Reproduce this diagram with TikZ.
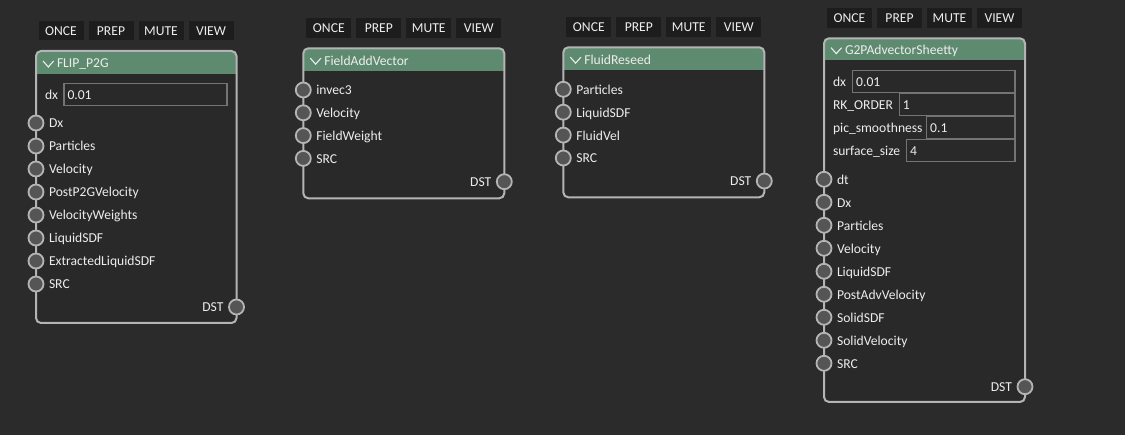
\documentclass[tikz,border=0pt]{standalone}
\usepackage{fontspec}
\setmainfont{Carlito}
\definecolor{bgc}{HTML}{2B2B2B}
\definecolor{bodyc}{HTML}{292929}
\definecolor{hdrc}{HTML}{5E8A6F}
\definecolor{bordc}{HTML}{B4B4B4}
\definecolor{portc}{HTML}{555555}
\definecolor{btnc}{HTML}{1D1D1D}
\definecolor{txtc}{HTML}{EDEDED}
\definecolor{fieldc}{HTML}{747474}
\tikzset{
  txt/.style={text=txtc, inner sep=0pt, outer sep=0pt, font=\fontsize{13.6}{15}\selectfont},
  btn/.style={txt, fill=btnc, minimum width=45pt, minimum height=19.5pt},
  panelbody/.style={fill=bodyc, inner sep=0pt, outer sep=0pt, rounded corners=5pt},
  panelborder/.style={draw=bordc, line width=2pt, rounded corners=5pt},
  chev/.style={draw=txtc, line width=1.1pt},
  port/.style={circle, draw=bordc, line width=1.8pt, fill=portc, minimum size=15pt, inner sep=0pt},
  fieldbox/.style={draw=fieldc, line width=1.2pt, inner sep=0pt, outer sep=0pt}
}
% #1 name, #2 x0, #3 x1, #4 top, #5 header bottom, #6 bottom, #7 title
\newcommand{\mypanel}[7]{%
  \node[btn,anchor=north east] (#1-view) at ({#3-3},{#4-30}) {VIEW};
  \node[btn,anchor=north east] (#1-mute) at ({#3-53},{#4-30}) {MUTE};
  \node[btn,anchor=north east] (#1-prep) at ({#3-103},{#4-30}) {PREP};
  \node[btn,anchor=north east] (#1-once) at ({#3-153},{#4-30}) {ONCE};
  \node[panelbody, minimum width={(#3-#2)*1pt}, minimum height={(#6-#4)*1pt}, anchor=north west] (#1) at (#2,#4) {};
  \begin{scope}
    \clip[rounded corners=5pt] (#1.north west) rectangle (#1.south east);
    \fill[hdrc] (#1.north west) rectangle ({#3},{#5});
  \end{scope}
  \draw[panelborder] (#1.north west) rectangle (#1.south east);
  \draw[chev] ({#2+7},{(#4+#5)/2-1.5}) -- ({#2+12.3},{(#4+#5)/2+4.5}) -- ({#2+17.6},{(#4+#5)/2-1.5});
  \node[txt,anchor=base west] (#1-title) at ({#2+21},{(#4+#5)/2+5.5}) {#7};
}
% #1 name, #2 x, #3 y, #4 label
\newcommand{\inport}[4]{%
  \node[port] (#1) at (#2,#3) {};
  \node[txt,anchor=base west] (#1-l) at ({#2+13},{#3+5}) {#4};
}
\newcommand{\outport}[3]{%
  \node[port] (#1) at (#2,#3) {};
  \node[txt,anchor=base east] (#1-l) at ({#2-13},{#3+5}) {DST};
}
% #1 name, #2 label x, #3 box x0, #4 box x1, #5 top, #6 bottom, #7 label, #8 value
\newcommand{\myfield}[8]{%
  \node[txt,anchor=base west] (#1-l) at (#2,{(#5+#6)/2+5}) {#7};
  \node[fieldbox, minimum width={(#4-#3)*1pt}, minimum height={(#6-#5)*1pt}, anchor=north west] (#1) at (#3,#5) {};
  \node[txt,anchor=base west] (#1-v) at ({#3+3.5},{(#5+#6)/2+5}) {#8};
}
\begin{document}
\begin{tikzpicture}[x=1pt,y=-1pt]
\fill[bgc] (0,0) rectangle (1125,435);
\useasboundingbox (0,0) rectangle (1125,435);

% ---- FLIP_P2G
\mypanel{a}{36}{236.5}{51}{74}{323}{FLIP\_P2G}
\myfield{a-dx}{45}{64}{227}{83.3}{105.7}{dx}{0.01}
\foreach \lab [count=\i from 0] in {Dx,Particles,Velocity,PostP2GVelocity,VelocityWeights,LiquidSDF,ExtractedLiquidSDF,SRC}{
  \inport{a-p\i}{36}{123+23*\i}{\lab}
}
\outport{a-dst}{236.5}{307}

% ---- FieldAddVector
\mypanel{b}{303.3}{504.3}{48.3}{71}{198.3}{FieldAddVector}
\foreach \lab [count=\i from 0] in {invec3,Velocity,FieldWeight,SRC}{
  \inport{b-p\i}{303.3}{90+22.8*\i}{\lab}
}
\outport{b-dst}{504.3}{181.7}

% ---- FluidReseed
\mypanel{c}{563.3}{764.3}{47.3}{70}{197.3}{FluidReseed}
\foreach \lab [count=\i from 0] in {Particles,LiquidSDF,FluidVel,SRC}{
  \inport{c-p\i}{563.3}{89.3+22.9*\i}{\lab}
}
\outport{c-dst}{764.3}{181}

% ---- G2PAdvectorSheetty
\mypanel{d}{824}{1025}{38.3}{60}{402}{G2PAdvectorSheetty}
\myfield{d-dx}{833}{852.7}{1015}{70.7}{92.7}{dx}{0.01}
\myfield{d-rk}{833}{899.3}{1015}{93.3}{115.7}{RK\_ORDER}{1}
\myfield{d-pic}{833}{926.7}{1015}{116.3}{138.7}{pic\_smoothness}{0.1}
\myfield{d-surf}{833}{906.7}{1015}{139.3}{161.7}{surface\_size}{4}
\foreach \lab [count=\i from 0] in {dt,Dx,Particles,Velocity,LiquidSDF,PostAdvVelocity,SolidSDF,SolidVelocity,SRC}{
  \inport{d-p\i}{824}{179.3+23*\i}{\lab}
}
\outport{d-dst}{1025}{386.7}
\end{tikzpicture}
\end{document}
